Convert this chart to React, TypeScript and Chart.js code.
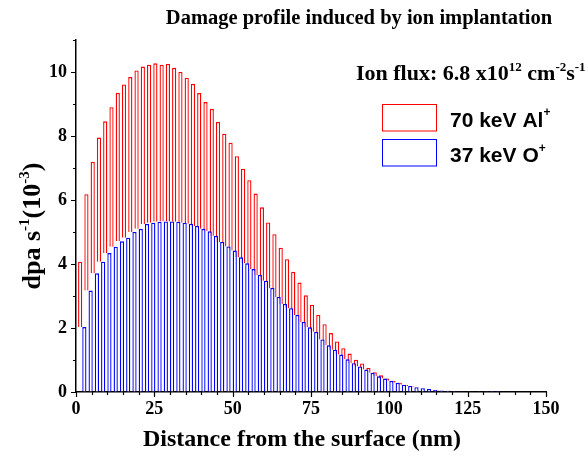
import React, { useEffect, useRef } from 'react';
import { Chart, registerables } from 'chart.js';

Chart.register(...registerables);

// Depth bins (nm)
const depthNm = [
  2, 4, 6, 8, 10, 12, 14, 16, 18, 20,
  22, 24, 26, 28, 30, 32, 34, 36, 38, 40,
  42, 44, 46, 48, 50, 52, 54, 56, 58, 60,
  62, 64, 66, 68, 70, 72, 74, 76, 78, 80,
  82, 84, 86, 88, 90, 92, 94, 96, 98, 100,
  102, 104, 106, 108, 110, 112, 114, 116, 118, 120,
  122, 124, 126, 128, 130, 132, 134,
];

// 70 keV Al+ damage rate (dpa s^-1, x10^-3)
const alValues = [
  4.07, 6.18, 7.19, 7.95, 8.46, 8.9, 9.35, 9.61, 9.84, 10.05,
  10.17, 10.23, 10.27, 10.23, 10.25, 10.13, 10.0, 9.82, 9.63, 9.34,
  9.06, 8.85, 8.44, 8.07, 7.79, 7.37, 6.98, 6.62, 6.2, 5.77,
  5.3, 4.93, 4.51, 4.15, 3.76, 3.42, 3.02, 2.73, 2.41, 2.12,
  1.84, 1.58, 1.37, 1.2, 1.01, 0.89, 0.75, 0.62, 0.52, 0.42,
  0.35, 0.29, 0.22, 0.17, 0.13, 0.1, 0.08, 0.06, 0.05, 0.04,
  0.03, 0.02, 0.015, 0.01, 0.008, 0.005, 0.003,
];

// 37 keV O+ damage rate (dpa s^-1, x10^-3)
const oValues = [
  2.03, 3.17, 3.71, 4.07, 4.34, 4.54, 4.71, 4.82, 5.0, 5.1,
  5.25, 5.29, 5.32, 5.33, 5.33, 5.32, 5.29, 5.26, 5.19, 5.1,
  5.02, 4.88, 4.69, 4.55, 4.42, 4.21, 4.02, 3.84, 3.66, 3.48,
  3.25, 2.97, 2.75, 2.62, 2.41, 2.19, 2.02, 1.88, 1.64, 1.46,
  1.32, 1.17, 1.02, 0.9, 0.8, 0.7, 0.6, 0.49, 0.42, 0.35,
  0.29, 0.23, 0.19, 0.15, 0.12, 0.09, 0.07, 0.05, 0.04, 0.03,
  0.02, 0.015, 0.01, 0.007, 0.005, 0.003, 0.002,
];

const seriesLabels = ['70 keV Al', '37 keV O'];
const chartTitle = 'Damage profile induced by ion implantation';
const xAxisTitle = 'Distance from the surface (nm)';
const X_MIN = 0, X_MAX = 150, X_MAJOR = 25, X_MINOR = 5;
const Y_MIN = 0, Y_MAX = 11, Y_MAJOR = 2, Y_MINOR = 1;

type Part = { t: string; sup?: boolean };

function richWidth(ctx: CanvasRenderingContext2D, parts: Part[], font: string, supFont: string) {
  let w = 0;
  for (const p of parts) {
    ctx.font = p.sup ? supFont : font;
    w += ctx.measureText(p.t).width;
  }
  return w;
}

function drawRich(
  ctx: CanvasRenderingContext2D,
  parts: Part[],
  x: number,
  y: number,
  font: string,
  supFont: string,
  rise: number
) {
  let cx = x;
  for (const p of parts) {
    ctx.font = p.sup ? supFont : font;
    ctx.fillText(p.t, cx, p.sup ? y - rise : y);
    cx += ctx.measureText(p.t).width;
  }
}

const SERIF = '"Liberation Serif", "Times New Roman", serif';
const SANS = '"Liberation Sans", Arial, sans-serif';

export default function App() {
  const canvasRef = useRef<HTMLCanvasElement>(null);

  useEffect(() => {
    const canvas = canvasRef.current;
    if (!canvas) return;

    const redData = depthNm.map((x, i) => ({
      x,
      y: [Math.min(oValues[i] ?? 0, alValues[i]), alValues[i]],
    }));
    const blueData = depthNm.map((x, i) => ({ x, y: oValues[i] }));

    const drawOrderPlugin = {
      id: 'drawOrder',
      beforeDatasetDraw(chart: any, args: any) {
        if (args.index === 0) return false;
        if (args.index === 1) {
          const c = chart.ctx;
          const a = chart.chartArea;
          c.save();
          c.beginPath();
          c.rect(a.left, a.top, a.right - a.left, a.bottom - a.top);
          c.clip();
          chart.getDatasetMeta(0).controller.draw();
          c.restore();
        }
        return true;
      },
    };

    const decorPlugin = {
      id: 'decor',
      afterDraw(chart: any) {
        const c: CanvasRenderingContext2D = chart.ctx;
        const xs = chart.scales.x;
        const ys = chart.scales.y;
        const a = chart.chartArea;
        c.save();
        // tick marks
        c.strokeStyle = '#000';
        c.lineWidth = 1.2;
        c.beginPath();
        for (let v = X_MIN; v <= X_MAX; v += X_MINOR) {
          const len = v % X_MAJOR === 0 ? 5 : 3;
          const px = Math.round(xs.getPixelForValue(v)) + 0.5;
          c.moveTo(px, a.bottom);
          c.lineTo(px, a.bottom + len);
        }
        for (let v = Y_MIN; v <= Y_MAX; v += Y_MINOR) {
          const len = v % Y_MAJOR === 0 ? 5 : 3;
          const py = Math.round(ys.getPixelForValue(v)) + 0.5;
          c.moveTo(a.left - len, py);
          c.lineTo(a.left, py);
        }
        c.stroke();

        c.fillStyle = '#000';
        c.textAlign = 'left';
        c.textBaseline = 'alphabetic';

        // Title
        c.font = `bold 20.5px ${SERIF}`;
        const tw = c.measureText(chartTitle).width;
        c.fillText(chartTitle, 359 - tw / 2, 24);

        // X axis title
        c.font = `bold 24px ${SERIF}`;
        const xw = c.measureText(xAxisTitle).width;
        c.fillText(xAxisTitle, (a.left + a.right) / 2 - 9 - xw / 2, 446);

        // Y axis title
        const yParts: Part[] = [
          { t: 'dpa s' },
          { t: '-1', sup: true },
          { t: '(10' },
          { t: '-3', sup: true },
          { t: ')' },
        ];
        const yf = `bold 26px ${SERIF}`;
        const ysf = `bold 15px ${SERIF}`;
        c.save();
        c.translate(40, 226);
        c.rotate(-Math.PI / 2);
        const yw = richWidth(c, yParts, yf, ysf);
        drawRich(c, yParts, -yw / 2, 0, yf, ysf, 11);
        c.restore();

        // Ion flux annotation
        const fluxParts: Part[] = [
          { t: 'Ion flux: 6.8 x10' },
          { t: '12', sup: true },
          { t: ' cm' },
          { t: '-2', sup: true },
          { t: 's' },
          { t: '-1', sup: true },
        ];
        drawRich(c, fluxParts, 356, 80, `bold 22px ${SERIF}`, `bold 13px ${SERIF}`, 9);

        // Legend
        const boxColors = ['#ff0000', '#0000ff'];
        const boxTops = [104.5, 139.5];
        const baselines = [126.7, 161.7];
        const rises = [11, 10];
        for (let i = 0; i < 2; i++) {
          c.fillStyle = '#fff';
          c.fillRect(382.5, boxTops[i], 54, 26.5);
          c.strokeStyle = boxColors[i];
          c.lineWidth = 1;
          c.strokeRect(382.5, boxTops[i], 54, 26.5);
          c.fillStyle = '#000';
          drawRich(
            c,
            [{ t: seriesLabels[i] }, { t: '+', sup: true }],
            450,
            baselines[i],
            `bold 21px ${SANS}`,
            `bold 12px ${SANS}`,
            rises[i]
          );
        }
        c.restore();
      },
    };

    const tickFont = { family: SERIF, size: 18, weight: 'bold' as const };

    const chart = new Chart(canvas, {
      type: 'bar',
      data: {
        datasets: [
          {
            label: seriesLabels[0],
            data: redData as any,
            backgroundColor: '#ffffff',
            borderColor: '#ff0000',
            borderWidth: 1.35,
            barThickness: 4.2,
            inflateAmount: 0,
          },
          {
            label: seriesLabels[1],
            data: blueData as any,
            backgroundColor: '#ffffff',
            borderColor: '#0000ff',
            borderWidth: 1.35,
            barThickness: 4.2,
            inflateAmount: 0,
          },
        ],
      },
      options: {
        animation: false,
        responsive: false,
        devicePixelRatio: 1,
        layout: { padding: { top: 40, right: 42, left: 0, bottom: 0 } },
        plugins: {
          legend: { display: false },
          tooltip: { enabled: false },
          title: { display: false },
        },
        scales: {
          x: {
            type: 'linear',
            min: X_MIN,
            max: X_MAX,
            offset: false,
            ticks: {
              stepSize: X_MAJOR,
              font: tickFont,
              color: '#000',
              padding: 7,
              maxRotation: 0,
              autoSkip: false,
            },
            grid: { display: true, drawOnChartArea: false, drawTicks: false, color: '#000' },
            border: { display: true, color: '#000', width: 1.5 },
            afterFit(scale: any) {
              scale.height = 64;
            },
          },
          y: {
            type: 'linear',
            min: Y_MIN,
            max: Y_MAX,
            ticks: {
              stepSize: Y_MAJOR,
              includeBounds: false,
              font: tickFont,
              color: '#000',
              padding: 9,
            },
            grid: { display: true, drawOnChartArea: false, drawTicks: false, color: '#000' },
            border: { display: true, color: '#000', width: 1.5 },
            afterFit(scale: any) {
              scale.width = 76;
            },
          },
        },
      } as any,
      plugins: [drawOrderPlugin, decorPlugin],
    });

    return () => chart.destroy();
  }, []);

  return (
    <div style={{ position: 'fixed', left: 0, top: 0, width: 588, height: 456, background: '#fff' }}>
      <canvas ref={canvasRef} width={588} height={456} style={{ width: 588, height: 456 }} />
    </div>
  );
}
